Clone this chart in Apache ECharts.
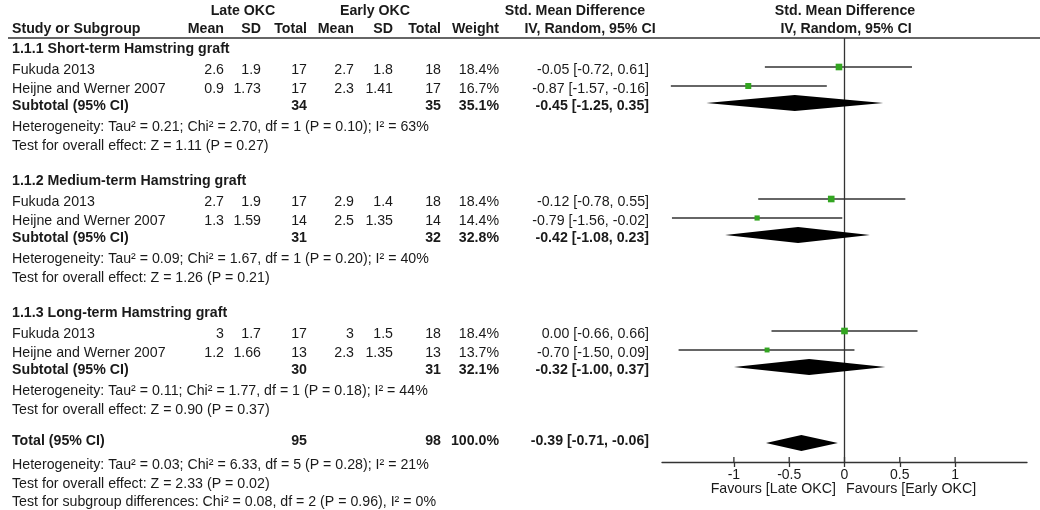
<!DOCTYPE html>
<html>
<head>
<meta charset="utf-8">
<title>Forest plot - Late vs Early OKC</title>
<script src="https://cdn.jsdelivr.net/npm/echarts@6/dist/echarts.min.js"></script>
<style>
    html, body { margin: 0; padding: 0; background: #fff; }
    #chart { width: 1040px; height: 510px; }
</style>
</head>
<body>
<div id="chart"></div>
<script>
// ---------- data ----------
var groupTitles = ['1.1.1 Short-term Hamstring graft', '1.1.2 Medium-term Hamstring graft', '1.1.3 Long-term Hamstring graft'];
var studyNames = ['Fukuda 2013', 'Heijne and Werner 2007', 'Fukuda 2013', 'Heijne and Werner 2007', 'Fukuda 2013', 'Heijne and Werner 2007'];
var studyGroup = [0, 0, 1, 1, 2, 2];
var lateMean = [2.6, 0.9, 2.7, 1.3, 3, 1.2];
var lateSD = [1.9, 1.73, 1.9, 1.59, 1.7, 1.66];
var lateTotal = [17, 17, 17, 14, 17, 13];
var earlyMean = [2.7, 2.3, 2.9, 2.5, 3, 2.3];
var earlySD = [1.8, 1.41, 1.4, 1.35, 1.5, 1.35];
var earlyTotal = [18, 17, 18, 14, 18, 13];
var studyWeight = [18.4, 16.7, 18.4, 14.4, 18.4, 13.7];
var studySmd = [-0.05, -0.87, -0.12, -0.79, 0.00, -0.70];
var studyLow = [-0.72, -1.57, -0.78, -1.56, -0.66, -1.50];
var studyHigh = [0.61, -0.16, 0.55, -0.02, 0.66, 0.09];

var subLateTotal = [34, 31, 30];
var subEarlyTotal = [35, 32, 31];
var subWeight = [35.1, 32.8, 32.1];
var subSmd = [-0.45, -0.42, -0.32];
var subLow = [-1.25, -1.08, -1.00];
var subHigh = [0.35, 0.23, 0.37];
var subHeterogeneity = [
    'Heterogeneity: Tau\u00b2 = 0.21; Chi\u00b2 = 2.70, df = 1 (P = 0.10); I\u00b2 = 63%',
    'Heterogeneity: Tau\u00b2 = 0.09; Chi\u00b2 = 1.67, df = 1 (P = 0.20); I\u00b2 = 40%',
    'Heterogeneity: Tau\u00b2 = 0.11; Chi\u00b2 = 1.77, df = 1 (P = 0.18); I\u00b2 = 44%'
];
var subOverall = [
    'Test for overall effect: Z = 1.11 (P = 0.27)',
    'Test for overall effect: Z = 1.26 (P = 0.21)',
    'Test for overall effect: Z = 0.90 (P = 0.37)'
];

var totalLate = 95;
var totalEarly = 98;
var totalWeight = 100.0;
var totalSmd = -0.39;
var totalLow = -0.71;
var totalHigh = -0.06;
var totalNotes = [
    'Heterogeneity: Tau\u00b2 = 0.03; Chi\u00b2 = 6.33, df = 5 (P = 0.28); I\u00b2 = 21%',
    'Test for overall effect: Z = 2.33 (P = 0.02)',
    'Test for subgroup differences: Chi\u00b2 = 0.08, df = 2 (P = 0.96), I\u00b2 = 0%'
];

var tickValues = [-1, -0.5, 0, 0.5, 1];
var favoursLabels = ['Favours [Late OKC]', 'Favours [Early OKC]'];

// ---------- layout ----------
var groupTop = [49, 181, 313];          // y of the subgroup titles
var rowStep = { study1: 21, study2: 40, subtotal: 57, het: 78, test: 97 };
var totalRowY = [441, 465, 484, 502];   // total, heterogeneity, overall, subgroup test
var totalDiamondY = 443;
var markShift = -3;                     // marks sit a little above the text middle
var axisY = 462;
var col = { name: 12, lateMean: 224, lateSD: 261, lateTotal: 307, earlyMean: 354,
            earlySD: 393, earlyTotal: 441, weight: 499, ci: 649 };
var FONT = '"Liberation Sans", Arial, sans-serif';
var INK = '#1a1a1a';

function txt(s, x, y, align, bold) {
    return {
        type: 'text', silent: true,
        style: {
            text: String(s), x: x, y: y,
            textAlign: align || 'left', textVerticalAlign: 'middle',
            font: (bold ? 'bold ' : '') + '14.2px ' + FONT, fill: INK
        }
    };
}
function fmtCI(v, lo, hi) {
    return v.toFixed(2) + ' [' + lo.toFixed(2) + ', ' + hi.toFixed(2) + ']';
}

// ---------- table text ----------
var texts = [];
texts.push(txt('Late OKC', 243, 11, 'center', true));
texts.push(txt('Early OKC', 375, 11, 'center', true));
texts.push(txt('Std. Mean Difference', 575, 11, 'center', true));
texts.push(txt('Std. Mean Difference', 845, 11, 'center', true));
texts.push(txt('Study or Subgroup', col.name, 29, 'left', true));
texts.push(txt('Mean', col.lateMean, 29, 'right', true));
texts.push(txt('SD', col.lateSD, 29, 'right', true));
texts.push(txt('Total', col.lateTotal, 29, 'right', true));
texts.push(txt('Mean', col.earlyMean, 29, 'right', true));
texts.push(txt('SD', col.earlySD, 29, 'right', true));
texts.push(txt('Total', col.earlyTotal, 29, 'right', true));
texts.push(txt('Weight', col.weight, 29, 'right', true));
texts.push(txt('IV, Random, 95% CI', 590, 29, 'center', true));
texts.push(txt('IV, Random, 95% CI', 846, 29, 'center', true));

var studyY = [];
var studyCount = [0, 0, 0];
for (var i = 0; i < studyNames.length; i++) {
    var g = studyGroup[i];
    var rowY = groupTop[g] + (studyCount[g] === 0 ? rowStep.study1 : rowStep.study2);
    studyCount[g]++;
    studyY.push(rowY);
    texts.push(txt(studyNames[i], col.name, rowY, 'left'));
    texts.push(txt(lateMean[i], col.lateMean, rowY, 'right'));
    texts.push(txt(lateSD[i], col.lateSD, rowY, 'right'));
    texts.push(txt(lateTotal[i], col.lateTotal, rowY, 'right'));
    texts.push(txt(earlyMean[i], col.earlyMean, rowY, 'right'));
    texts.push(txt(earlySD[i], col.earlySD, rowY, 'right'));
    texts.push(txt(earlyTotal[i], col.earlyTotal, rowY, 'right'));
    texts.push(txt(studyWeight[i].toFixed(1) + '%', col.weight, rowY, 'right'));
    texts.push(txt(fmtCI(studySmd[i], studyLow[i], studyHigh[i]), col.ci, rowY, 'right'));
}

var subY = [];
for (var k = 0; k < groupTitles.length; k++) {
    var gTop = groupTop[k];
    var sy = gTop + rowStep.subtotal;
    subY.push(sy);
    texts.push(txt(groupTitles[k], col.name, gTop, 'left', true));
    texts.push(txt('Subtotal (95% CI)', col.name, sy, 'left', true));
    texts.push(txt(subLateTotal[k], col.lateTotal, sy, 'right', true));
    texts.push(txt(subEarlyTotal[k], col.earlyTotal, sy, 'right', true));
    texts.push(txt(subWeight[k].toFixed(1) + '%', col.weight, sy, 'right', true));
    texts.push(txt(fmtCI(subSmd[k], subLow[k], subHigh[k]), col.ci, sy, 'right', true));
    texts.push(txt(subHeterogeneity[k], col.name, gTop + rowStep.het, 'left'));
    texts.push(txt(subOverall[k], col.name, gTop + rowStep.test, 'left'));
}

texts.push(txt('Total (95% CI)', col.name, totalRowY[0], 'left', true));
texts.push(txt(totalLate, col.lateTotal, totalRowY[0], 'right', true));
texts.push(txt(totalEarly, col.earlyTotal, totalRowY[0], 'right', true));
texts.push(txt(totalWeight.toFixed(1) + '%', col.weight, totalRowY[0], 'right', true));
texts.push(txt(fmtCI(totalSmd, totalLow, totalHigh), col.ci, totalRowY[0], 'right', true));
for (var n = 0; n < totalNotes.length; n++) {
    texts.push(txt(totalNotes[n], col.name, totalRowY[n + 1], 'left'));
}
texts.push(txt(favoursLabels[0], 836, 489, 'right'));
texts.push(txt(favoursLabels[1], 846, 489, 'left'));

// header rule
texts.push({
    type: 'line', silent: true,
    shape: { x1: 8, y1: 38, x2: 1040, y2: 38 },
    style: { stroke: '#333', lineWidth: 1.3 }
});

// ---------- plot data ----------
var studyData = [];
for (var s = 0; s < studySmd.length; s++) {
    studyData.push([studySmd[s], studyLow[s], studyHigh[s], studyY[s] + markShift, studyWeight[s]]);
}
var diamondData = [];
for (var d = 0; d < subSmd.length; d++) {
    diamondData.push([subSmd[d], subLow[d], subHigh[d], subY[d] + markShift]);
}
diamondData.push([totalSmd, totalLow, totalHigh, totalDiamondY]);

// upper half of the axis ticks (the axis draws the lower half)
var upperTicks = tickValues.map(function (v) { return [v, axisY]; });

function renderStudy(params, api) {
    var y = api.value(3);
    var p = api.coord([api.value(0), y]);
    var lo = api.coord([api.value(1), y]);
    var hi = api.coord([api.value(2), y]);
    var size = api.value(4) * 0.36;
    return {
        type: 'group',
        children: [
            { type: 'line', shape: { x1: lo[0], y1: lo[1], x2: hi[0], y2: hi[1] },
              style: { stroke: '#333', lineWidth: 1.3 } },
            { type: 'rect', shape: { x: p[0] - size / 2, y: p[1] - size / 2, width: size, height: size },
              style: { fill: '#33a521' } }
        ]
    };
}

function renderDiamond(params, api) {
    var y = api.value(3);
    var p = api.coord([api.value(0), y]);
    var lo = api.coord([api.value(1), y]);
    var hi = api.coord([api.value(2), y]);
    var h = 8;
    return {
        type: 'polygon',
        shape: { points: [[lo[0], lo[1]], [p[0], p[1] - h], [hi[0], hi[1]], [p[0], p[1] + h]] },
        style: { fill: '#000' }
    };
}

function renderZero(params, api) {
    var a = api.coord([api.value(0), api.value(1)]);
    var b = api.coord([api.value(0), api.value(2)]);
    return { type: 'line', shape: { x1: a[0], y1: a[1], x2: b[0], y2: b[1] },
             style: { stroke: '#333', lineWidth: 1.3 } };
}

function renderTickTop(params, api) {
    var a = api.coord([api.value(0), api.value(1)]);
    return { type: 'line', shape: { x1: a[0], y1: a[1] - 5, x2: a[0], y2: a[1] },
             style: { stroke: '#333', lineWidth: 1.3 } };
}

var myChart = echarts.init(document.getElementById('chart'));
var option = {
    animation: false,
    backgroundColor: '#fff',
    grid: { left: 662, right: 13, top: 0, bottom: 510 - axisY },
    xAxis: {
        type: 'value', min: -1.65, max: 1.65,
        axisLine: { show: true, onZero: false, lineStyle: { color: '#333', width: 1.3 } },
        axisTick: { show: true, customValues: tickValues, length: 5,
                    lineStyle: { color: '#333', width: 1.3 } },
        axisLabel: { customValues: tickValues, margin: 6, fontSize: 14, color: INK,
                     fontFamily: FONT },
        splitLine: { show: false }
    },
    yAxis: { type: 'value', min: 0, max: axisY, inverse: true, show: false },
    graphic: { elements: texts },
    series: [
        { type: 'custom', renderItem: renderZero, data: [[0, 38, axisY]], silent: true, clip: false },
        { type: 'custom', renderItem: renderTickTop, data: upperTicks, silent: true, clip: false },
        { type: 'custom', renderItem: renderStudy, data: studyData, silent: true },
        { type: 'custom', renderItem: renderDiamond, data: diamondData, silent: true }
    ]
};
myChart.setOption(option);
</script>
</body>
</html>
